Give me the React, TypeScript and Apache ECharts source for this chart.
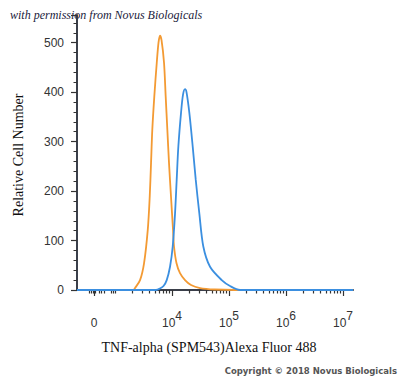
import React, { useEffect, useRef } from "react";
import * as echarts from "echarts";

// x positions are in display-decade units (log10 of fluorescence on the biexponential axis)
const orangeX = [2.333, 3.316, 3.351, 3.439, 3.509, 3.574, 3.609, 3.632, 3.654, 3.689, 3.732, 3.763, 3.789, 3.816, 3.86, 3.889, 3.918, 3.947, 3.982, 4.018, 4.035, 4.079, 4.14, 4.228, 4.333, 4.491, 4.754, 5.105, 7.175];
const orangeY = [0, 0, 4, 20, 54, 121, 189, 257, 324, 391, 459, 500, 514, 505, 459, 391, 324, 257, 189, 121, 88, 54, 34, 20, 10, 4, 1, 0, 0];
const blueX = [2.333, 3.719, 3.789, 3.851, 3.907, 3.965, 4.012, 4.053, 4.082, 4.111, 4.158, 4.193, 4.228, 4.254, 4.304, 4.363, 4.416, 4.479, 4.549, 4.667, 4.872, 5.018, 5.193, 7.175];
const blueY = [0, 0, 3, 8, 20, 47, 88, 155, 223, 290, 358, 395, 406, 400, 358, 290, 223, 155, 88, 47, 20, 8, 0, 0];

const majorTicks = [2.632, 4, 5, 6, 7];
const majorLabels = ["0", "4", "5", "6", "7"];
const minorTicks = [
  2.544, 2.579, 2.614, 2.649, 2.719, 2.754, 2.807, 2.93, 2.965, 3.0,
  3.301, 3.477, 3.602, 3.699, 3.778, 3.845, 3.903, 3.954,
  4.301, 4.477, 4.602, 4.699, 4.778, 4.845, 4.903, 4.954,
  5.301, 5.477, 5.602, 5.699, 5.778, 5.845, 5.903, 5.954,
  6.301, 6.477, 6.602, 6.699, 6.778, 6.845, 6.903, 6.954,
];

const xMin = 2.333;
const xMax = 7.175;
const yMax = 556;

export default function App() {
  const ref = useRef<HTMLDivElement>(null);
  useEffect(() => {
    if (!ref.current) return;
    const chart = echarts.init(ref.current, null, { renderer: "svg" });
    const toPairs = (xs: number[], ys: number[]) => xs.map((x, i) => [x, ys[i]]);
    chart.setOption({
      animation: false,
      backgroundColor: "#ffffff",
      grid: { left: 77, right: 47, top: 15, bottom: 88, containLabel: false },
      xAxis: [
        {
          type: "value",
          min: xMin,
          max: xMax,
          position: "bottom",
          splitLine: { show: false },
          axisLine: { show: true, lineStyle: { color: "#3a3f4a", width: 2 } },
          axisTick: { show: true, customValues: majorTicks, length: 6, inside: false, lineStyle: { color: "#333", width: 1.2 } },
          axisLabel: {
            show: true,
            customValues: majorTicks,
            margin: 22,
            formatter: (v: number) => {
              let idx = 0;
              let best = Infinity;
              majorTicks.forEach((t, i) => {
                const d = Math.abs(t - v);
                if (d < best) { best = d; idx = i; }
              });
              if (idx === 0) return "{z|" + majorLabels[0] + "}";
              return "{b|10}{s|" + majorLabels[idx] + "}";
            },
            rich: {
              z: { fontFamily: "Liberation Sans, Arial", fontSize: 12, color: "#333", lineHeight: 14, padding: [8, 0, 0, 0] },
              b: { fontFamily: "Liberation Sans, Arial", fontSize: 12, color: "#333", lineHeight: 14, padding: [8, 0, 0, 0] },
              s: { fontFamily: "Liberation Sans, Arial", fontSize: 12, color: "#333", lineHeight: 14, padding: [0, 0, 6, 0] },
            },
          },
        },
        {
          type: "value",
          min: xMin,
          max: xMax,
          position: "bottom",
          splitLine: { show: false },
          axisLine: { show: false },
          axisTick: { show: true, customValues: minorTicks, length: 3.5, lineStyle: { color: "#333", width: 1.2 } },
          axisLabel: { show: false },
        },
      ],
      yAxis: {
        type: "value",
        min: 0,
        max: yMax,
        interval: 100,
        splitLine: { show: false },
        axisLine: { show: true, lineStyle: { color: "#3a3f4a", width: 2 } },
        axisTick: { show: true, length: 6, lineStyle: { color: "#333", width: 1.2 } },
        minorTick: { show: true, splitNumber: 5, length: 3.5, lineStyle: { color: "#333", width: 1 } },
        axisLabel: {
          showMaxLabel: false,
          margin: 13,
          fontFamily: "Liberation Sans, Arial",
          fontSize: 12,
          color: "#333",
        },
      },
      series: [
        {
          type: "line",
          name: "Isotype",
          data: toPairs(orangeX, orangeY),
          showSymbol: false,
          smooth: 0.3,
          lineStyle: { color: "#f39a33", width: 1.8 },
          itemStyle: { color: "#f39a33" },
          z: 3,
        },
        {
          type: "line",
          name: "TNF-alpha",
          data: toPairs(blueX, blueY),
          showSymbol: false,
          smooth: 0.3,
          lineStyle: { color: "#3b8fe0", width: 1.8 },
          itemStyle: { color: "#3b8fe0" },
          z: 4,
        },
      ],
      graphic: [
        {
          type: "text",
          left: 10,
          top: 9,
          style: {
            text: "with permission from Novus Biologicals",
            fontFamily: "Liberation Serif, serif",
            fontStyle: "italic",
            fontSize: 12,
            fill: "#1b1b3c",
          },
        },
        {
          type: "text",
          x: 18,
          y: 155,
          rotation: Math.PI / 2,
          style: {
            text: "Relative Cell Number",
            fontFamily: "Liberation Serif, serif",
            fontSize: 14,
            fill: "#111",
            align: "center",
            verticalAlign: "middle",
          },
        },
        {
          type: "text",
          x: 209,
          y: 347,
          style: {
            text: "TNF-alpha (SPM543)Alexa Fluor 488",
            fontFamily: "Liberation Serif, serif",
            fontSize: 14,
            fill: "#111",
            align: "center",
            verticalAlign: "middle",
          },
        },
        {
          type: "text",
          x: 397,
          y: 371,
          style: {
            text: "Copyright © 2018 Novus Biologicals",
            fontFamily: "DejaVu Sans, sans-serif",
            fontWeight: "bold",
            fontSize: 8.5,
            fill: "#555",
            align: "right",
            verticalAlign: "middle",
          },
        },
      ],
    });
    return () => chart.dispose();
  }, []);
  return <div ref={ref} style={{ width: 400, height: 378, position: "fixed", left: 0, top: 0 }} />;
}
